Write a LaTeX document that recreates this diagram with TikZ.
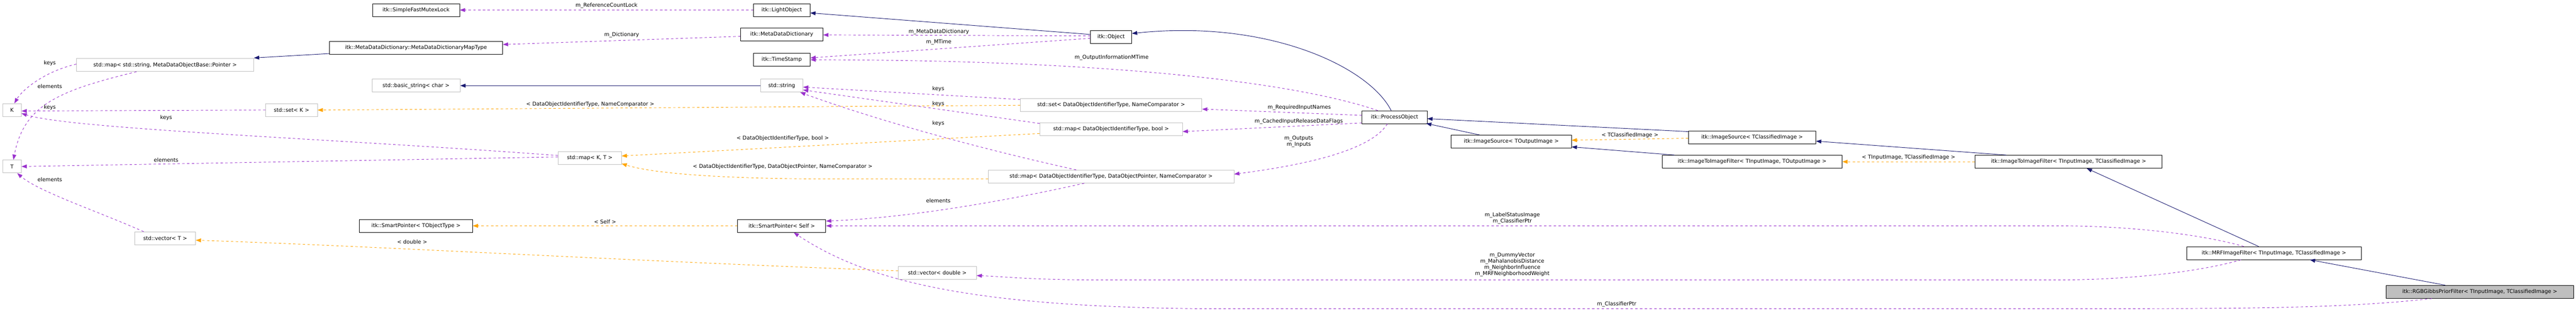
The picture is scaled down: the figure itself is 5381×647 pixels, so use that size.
\documentclass[tikz,border=0pt]{standalone}
\usepackage{fontspec}
\setmainfont{DejaVu Sans}
\usetikzlibrary{arrows.meta}
\definecolor{navy}{HTML}{191970}
\definecolor{orch}{HTML}{9A32CD}
\definecolor{orng}{HTML}{FFA500}
\tikzset{
  x=1pt,y=-1pt,
  box/.style={draw=black,fill=white,text=black,inner sep=0pt,minimum height=27pt,font=\fontsize{11}{13}\selectfont,line width=0.9pt},
  stdbox/.style={box,draw=black!25},
  gbox/.style={box,fill=black!25},
  lbl/.style={font=\fontsize{11}{13}\selectfont,inner sep=0pt,align=center,text=black},
  inh/.style={navy,line width=1pt,-{Triangle[length=11pt,width=8pt]}},
  use/.style={orch,line width=1pt,dash pattern=on 5pt off 5pt,-{Triangle[length=11pt,width=8pt]}},
  tpl/.style={orng,line width=1pt,dash pattern=on 5pt off 5pt,-{Triangle[length=11pt,width=8pt]}}
}
\begin{document}
\begin{tikzpicture}
\useasboundingbox (0,0) rectangle (5381,647);
% nodes
\node[stdbox,minimum width=39pt] (K) at (25,230) {K};
\node[stdbox,minimum width=39pt] (T) at (25,348) {T};
\node[stdbox,minimum width=370pt] (mapstr) at (345,136) {std::map< std::string, MetaDataObjectBase::Pointer >};
\node[stdbox,minimum width=108pt] (setK) at (609,230) {std::set< K >};
\node[stdbox,minimum width=127pt] (vecT) at (345,498) {std::vector< T >};
\node[box,minimum width=182pt] (mutex) at (869,21) {itk::SimpleFastMutexLock};
\node[box,minimum width=362pt] (maptype) at (869,100) {itk::MetaDataDictionary::MetaDataDictionaryMapType};
\node[stdbox,minimum width=184pt] (bstr) at (869,179) {std::basic\_string< char >};
\node[box,minimum width=236pt] (spTO) at (869,472) {itk::SmartPointer< TObjectType >};
\node[box,minimum width=118pt] (light) at (1633,21) {itk::LightObject};
\node[box,minimum width=172pt] (mdd) at (1633,72) {itk::MetaDataDictionary};
\node[box,minimum width=119pt] (ts) at (1633,125) {itk::TimeStamp};
\node[stdbox,minimum width=88pt] (str) at (1633,179) {std::string};
\node[stdbox,minimum width=132pt] (mapKT) at (1232,330) {std::map< K, T >};
\node[box,minimum width=184pt] (spS) at (1633,472) {itk::SmartPointer< Self >};
\node[box,minimum width=86pt] (obj) at (2321,77) {itk::Object};
\node[stdbox,minimum width=379pt] (setD) at (2321,219) {std::set< DataObjectIdentifierType, NameComparator >};
\node[stdbox,minimum width=298pt] (mapB) at (2321,270) {std::map< DataObjectIdentifierType, bool >};
\node[stdbox,minimum width=513pt] (mapD) at (2321,369) {std::map< DataObjectIdentifierType, DataObjectPointer, NameComparator >};
\node[stdbox,minimum width=163pt] (vecD) at (1958,570) {std::vector< double >};
\node[box,minimum width=136pt] (proc) at (2913,245) {itk::ProcessObject};
\node[box,minimum width=251pt] (isO) at (3157,296) {itk::ImageSource< TOutputImage >};
\node[box,minimum width=266pt] (isC) at (3660,287) {itk::ImageSource< TClassifiedImage >};
\node[box,minimum width=376pt] (iiO) at (3660,338) {itk::ImageToImageFilter< TInputImage, TOutputImage >};
\node[box,minimum width=391pt] (iiC) at (4321,338) {itk::ImageToImageFilter< TInputImage, TClassifiedImage >};
\node[box,minimum width=365pt] (mrf) at (4750,529) {itk::MRFImageFilter< TInputImage, TClassifiedImage >};
\node[gbox,minimum width=392pt] (rgb) at (5180,610) {itk::RGBGibbsPriorFilter< TInputImage, TClassifiedImage >};
% inheritance
\draw[inh] ([yshift=5pt]obj.west) -- ([yshift=-6pt]light.east);
\draw[inh] ([xshift=-7pt]proc.north) .. controls (2860,140) and (2650,40) .. ([yshift=7pt]obj.east);
\draw[inh] ([xshift=-66pt]isO.north) -- ([xshift=66pt,yshift=1pt]proc.south);
\draw[inh] ([yshift=12pt]isC.west) -- ([yshift=-3pt]proc.east);
\draw[inh] ([xshift=-162pt]iiO.north) -- ([yshift=-11pt]isO.east);
\draw[inh] ([xshift=-130pt]iiC.north) -- ([yshift=-8pt]isC.east);
\draw[inh] ([xshift=-32pt]mrf.north) -- ([xshift=38pt]iiC.south);
\draw[inh] ([xshift=-72pt]rgb.north) -- ([xshift=75pt]mrf.south);
\draw[inh] ([yshift=-12pt]maptype.west) -- ([yshift=1pt]mapstr.north east);
\draw[inh] (str.west) -- (bstr.east);
% templates
\draw[tpl] ([yshift=-2pt]isC.west) -- node[lbl,above=3pt]{< TClassifiedImage >} ([yshift=3pt]isO.east);
\draw[tpl] (iiC.west) -- node[lbl,above=3pt]{< TInputImage, TClassifiedImage >} (iiO.east);
\draw[tpl] ([yshift=-1pt]setD.west) -- (setK.east);
\node[lbl] (l13) at (1233,218) {< DataObjectIdentifierType, NameComparator >};
\draw[tpl] ([yshift=-9pt]mapB.west) -- ([yshift=4pt]mapKT.east);
\node[lbl] (l14) at (1635,289) {< DataObjectIdentifierType, bool >};
\draw[tpl] ([yshift=-5pt]mapD.west) -- (1700,374) .. controls (1450,372) and (1350,358) .. ([yshift=-12pt]mapKT.east);
\node[lbl] (l15) at (1635,348) {< DataObjectIdentifierType, DataObjectPointer, NameComparator >};
\draw[tpl] (spS.west) -- node[lbl,above=4pt]{< Self >} (spTO.east);
\draw[tpl] ([yshift=4pt]vecD.west) .. controls (1300,545) and (800,515) .. ([yshift=-4pt]vecT.east);
\node[lbl] (l17) at (861,505) {< double >};
% usage
\draw[use] (light.west) -- node[lbl,above=3pt]{m\_ReferenceCountLock} (mutex.east);
\draw[use] ([yshift=-4pt]mdd.west) -- node[lbl,above=5pt]{m\_Dictionary} ([yshift=7pt]maptype.east);
\draw[use] ([yshift=2pt]obj.west) -- ([yshift=-1pt]mdd.east);
\node[lbl] (l20) at (1961,67) {m\_MetaDataDictionary};
\draw[use] ([yshift=-3pt]obj.west) -- ([yshift=4pt]ts.east);
\node[lbl] (l21) at (1961,88) {m\_MTime};
\draw[use] ([xshift=-35pt]proc.north) .. controls (2700,170) and (2300,125) .. ([yshift=0pt]ts.east);
\node[lbl] (l22) at (2322,120) {m\_OutputInformationMTime};
\draw[use] ([yshift=11pt]setD.west) -- ([yshift=-3pt]str.east);
\node[lbl] (l23) at (1960,186) {keys};
\draw[use] ([yshift=12pt]mapB.west) -- ([yshift=-9pt]str.east);
\node[lbl] (l24) at (1960,217) {keys};
\draw[use] ([xshift=-73pt]mapD.north) .. controls (2000,300) and (1800,240) .. ([xshift=-6pt]str.south east);
\node[lbl] (l25) at (1960,258) {keys};
\draw[use] ([yshift=4pt]proc.west) -- ([yshift=-9pt]setD.east);
\node[lbl] (l26) at (2714,225) {m\_RequiredInputNames};
\draw[use] ([yshift=-12pt]proc.west) -- ([yshift=-5pt]mapB.east);
\node[lbl] (l27) at (2713,254) {m\_CachedInputReleaseDataFlags};
\draw[use] ([xshift=-15pt]proc.south) .. controls (2860,320) and (2700,348) .. ([yshift=5pt]mapD.east);
\node[lbl] (l28) at (2713,296) {m\_Outputs\\m\_Inputs};
\draw[use] ([xshift=-56pt]mapD.south) .. controls (2100,420) and (1900,455) .. ([yshift=10pt]spS.east);
\node[lbl] (l29) at (1960,419) {elements};
\draw[use] ([xshift=-63pt]mrf.north) .. controls (4600,490) and (4450,472) .. (4300,472) -- (spS.east);
\node[lbl] (l30) at (3159,456) {m\_LabelStatusImage\\m\_ClassifierPtr};
\draw[use] ([xshift=-69pt]mrf.south) .. controls (4600,567) and (4450,585) .. (4300,585) -- (2300,585) .. controls (2150,585) and (2100,578) .. ([yshift=-6pt]vecD.east);
\node[lbl] (l31) at (3159,553) {m\_DummyVector\\m\_MahalanobisDistance\\m\_NeighborInfluence\\m\_MRFNeighborhoodWeight};
\draw[use] ([xshift=-100pt]rgb.south) .. controls (4900,644) and (4700,645) .. (4400,645) -- (2500,645) .. controls (2000,640) and (1800,580) .. ([xshift=25pt]spS.south);
\node[lbl] (l32) at (3377,636) {m\_ClassifierPtr};
% left side
\draw[use] ([yshift=2pt]mapstr.west) .. controls (90,150) and (45,190) .. ([xshift=5pt]K.north);
\node[lbl] (l33) at (104,132) {keys};
\draw[use] ([xshift=-60pt]mapstr.south) .. controls (120,190) and (50,220) .. ([xshift=3pt]T.north);
\node[lbl] (l34) at (104,180) {elements};
\draw[use] (setK.west) -- ([yshift=-2pt]K.east);
\node[lbl] (l35) at (104,225) {keys};
\draw[use] ([yshift=5pt]mapKT.west) .. controls (700,290) and (150,270) .. ([yshift=-7pt]K.east);
\node[lbl] (l36) at (347,246) {keys};
\draw[use] ([yshift=2pt]mapKT.west) -- (T.east);
\node[lbl] (l37) at (347,334) {elements};
\draw[use] ([xshift=-45pt]vecT.north) .. controls (200,440) and (80,400) .. ([xshift=11pt]T.south);
\node[lbl] (l38) at (104,375) {elements};
\end{tikzpicture}
\end{document}
